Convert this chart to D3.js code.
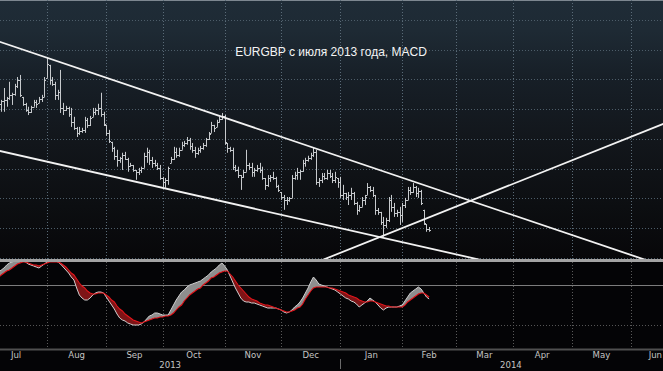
<!DOCTYPE html>
<html><head><meta charset="utf-8">
<script src="https://cdn.jsdelivr.net/npm/d3@7"></script>
<style>body{margin:0;background:#000;overflow:hidden}svg{display:block}</style>
</head><body>
<script>
// ---- DATA: EURGBP daily OHLC (weekdays from 2013-07-08) ----
const open = [0.8597,0.8618,0.8628,0.8631,0.8638,0.8648,0.8651,0.8678,0.8698,0.8641,
0.8618,0.8597,0.8591,0.8608,0.8624,0.8621,0.8634,0.8641,0.8705,0.8749,
0.8698,0.8685,0.8648,0.8658,0.8604,0.8597,0.8604,0.8584,0.8557,0.8537,
0.8520,0.8527,0.8530,0.8564,0.8547,0.8574,0.8591,0.8597,0.8604,0.8584,
0.8547,0.8520,0.8490,0.8470,0.8443,0.8429,0.8436,0.8446,0.8433,0.8409,
0.8412,0.8395,0.8389,0.8395,0.8402,0.8443,0.8456,0.8429,0.8419,0.8412,
0.8402,0.8368,0.8355,0.8362,0.8419,0.8433,0.8456,0.8446,0.8463,0.8480,
0.8486,0.8496,0.8476,0.8463,0.8453,0.8463,0.8470,0.8480,0.8500,0.8520,
0.8547,0.8540,0.8557,0.8567,0.8577,0.8486,0.8470,0.8463,0.8406,0.8395,
0.8378,0.8372,0.8389,0.8412,0.8406,0.8389,0.8395,0.8402,0.8395,0.8368,
0.8345,0.8368,0.8372,0.8368,0.8341,0.8321,0.8304,0.8294,0.8294,0.8301,
0.8368,0.8378,0.8389,0.8392,0.8419,0.8429,0.8436,0.8446,0.8456,0.8355,
0.8362,0.8375,0.8368,0.8385,0.8375,0.8362,0.8368,0.8355,0.8311,0.8318,
0.8304,0.8311,0.8318,0.8284,0.8261,0.8271,0.8294,0.8311,0.8338,0.8328,
0.8311,0.8261,0.8254,0.8220,0.8210,0.8227,0.8294,0.8271,0.8250,0.8254,
0.8244,0.8277,0.8294,0.8328,0.8321,0.8338,0.8318,0.8324,0.8261,0.8213,
0.8197];
const high = [0.8631,0.8631,0.8671,0.8641,0.8692,0.8655,0.8685,0.8708,0.8715,0.8641,
0.8621,0.8608,0.8611,0.8631,0.8631,0.8641,0.8648,0.8708,0.8772,0.8749,
0.8708,0.8692,0.8665,0.8732,0.8621,0.8611,0.8608,0.8604,0.8574,0.8540,
0.8540,0.8537,0.8574,0.8570,0.8577,0.8604,0.8604,0.8618,0.8655,0.8591,
0.8547,0.8530,0.8490,0.8473,0.8463,0.8439,0.8453,0.8456,0.8436,0.8419,
0.8412,0.8395,0.8402,0.8406,0.8453,0.8470,0.8463,0.8439,0.8429,0.8419,
0.8412,0.8372,0.8368,0.8406,0.8439,0.8473,0.8470,0.8470,0.8490,0.8493,
0.8506,0.8503,0.8486,0.8473,0.8470,0.8476,0.8486,0.8503,0.8523,0.8557,
0.8547,0.8564,0.8574,0.8587,0.8580,0.8486,0.8473,0.8470,0.8412,0.8406,
0.8378,0.8395,0.8463,0.8419,0.8419,0.8402,0.8412,0.8419,0.8406,0.8368,
0.8378,0.8378,0.8389,0.8372,0.8345,0.8321,0.8311,0.8304,0.8304,0.8378,
0.8389,0.8402,0.8395,0.8429,0.8436,0.8443,0.8453,0.8470,0.8463,0.8368,
0.8385,0.8385,0.8395,0.8395,0.8385,0.8389,0.8368,0.8372,0.8345,0.8318,
0.8321,0.8335,0.8321,0.8288,0.8277,0.8304,0.8311,0.8351,0.8341,0.8338,
0.8311,0.8267,0.8254,0.8237,0.8234,0.8304,0.8311,0.8284,0.8261,0.8271,
0.8284,0.8301,0.8338,0.8338,0.8351,0.8341,0.8335,0.8328,0.8261,0.8213,
0.8203];
const low = [0.8591,0.8591,0.8591,0.8608,0.8631,0.8614,0.8645,0.8671,0.8641,0.8611,
0.8591,0.8580,0.8587,0.8608,0.8604,0.8621,0.8624,0.8641,0.8705,0.8682,
0.8678,0.8631,0.8631,0.8587,0.8580,0.8594,0.8574,0.8540,0.8530,0.8506,
0.8513,0.8520,0.8520,0.8537,0.8543,0.8574,0.8580,0.8580,0.8574,0.8543,
0.8510,0.8486,0.8456,0.8429,0.8406,0.8419,0.8395,0.8429,0.8389,0.8406,
0.8389,0.8362,0.8378,0.8385,0.8402,0.8419,0.8412,0.8402,0.8406,0.8395,
0.8362,0.8338,0.8335,0.8345,0.8419,0.8429,0.8436,0.8439,0.8463,0.8473,
0.8480,0.8463,0.8453,0.8436,0.8446,0.8453,0.8463,0.8473,0.8496,0.8520,
0.8523,0.8540,0.8554,0.8564,0.8480,0.8453,0.8456,0.8395,0.8389,0.8368,
0.8328,0.8368,0.8389,0.8395,0.8372,0.8372,0.8389,0.8385,0.8362,0.8328,
0.8338,0.8355,0.8362,0.8335,0.8321,0.8294,0.8261,0.8277,0.8288,0.8301,
0.8362,0.8362,0.8362,0.8389,0.8406,0.8423,0.8429,0.8439,0.8345,0.8338,
0.8351,0.8362,0.8362,0.8368,0.8351,0.8351,0.8335,0.8301,0.8294,0.8294,
0.8277,0.8294,0.8277,0.8244,0.8254,0.8271,0.8277,0.8311,0.8321,0.8304,
0.8244,0.8244,0.8210,0.8170,0.8200,0.8220,0.8254,0.8237,0.8237,0.8210,
0.8220,0.8267,0.8294,0.8311,0.8318,0.8304,0.8301,0.8277,0.8210,0.8187,
0.8187];
const close = [0.8618,0.8628,0.8631,0.8638,0.8648,0.8651,0.8678,0.8698,0.8648,0.8618,
0.8597,0.8591,0.8608,0.8624,0.8618,0.8634,0.8641,0.8698,0.8752,0.8698,
0.8685,0.8648,0.8658,0.8604,0.8597,0.8604,0.8584,0.8557,0.8537,0.8520,
0.8527,0.8530,0.8564,0.8547,0.8570,0.8591,0.8597,0.8604,0.8584,0.8550,
0.8520,0.8493,0.8470,0.8443,0.8429,0.8436,0.8446,0.8433,0.8409,0.8412,
0.8395,0.8389,0.8395,0.8402,0.8443,0.8456,0.8429,0.8419,0.8412,0.8402,
0.8368,0.8355,0.8362,0.8402,0.8433,0.8456,0.8446,0.8463,0.8480,0.8486,
0.8496,0.8476,0.8463,0.8453,0.8463,0.8470,0.8480,0.8500,0.8517,0.8547,
0.8537,0.8557,0.8567,0.8577,0.8490,0.8470,0.8463,0.8406,0.8395,0.8378,
0.8372,0.8389,0.8412,0.8406,0.8389,0.8395,0.8402,0.8395,0.8368,0.8345,
0.8368,0.8372,0.8368,0.8341,0.8328,0.8304,0.8294,0.8294,0.8301,0.8368,
0.8378,0.8389,0.8392,0.8419,0.8429,0.8436,0.8446,0.8456,0.8355,0.8362,
0.8375,0.8368,0.8385,0.8375,0.8362,0.8372,0.8355,0.8311,0.8318,0.8304,
0.8311,0.8318,0.8284,0.8261,0.8271,0.8294,0.8304,0.8338,0.8328,0.8311,
0.8261,0.8254,0.8220,0.8210,0.8227,0.8294,0.8271,0.8250,0.8254,0.8244,
0.8277,0.8294,0.8328,0.8321,0.8338,0.8318,0.8324,0.8284,0.8217,0.8197,
0.8193];
// MACD and signal line, in pips
const macdLine = [13,15,17,20,22,23,24,25,25,24, 23,21,20,19,18,17,19,21,23,25,
24,24,23,21,18,15,12,8,5,-3, -10,-13,-15,-15,-13,-10,-8,-7,-7,-8,
-12,-16,-20,-24,-29,-33,-35,-36,-38,-39, -40,-40,-40,-39,-37,-34,-31,-30,-28,-28,
-29,-30,-30,-30,-25,-20,-15,-11,-7,-5, -2,0,1,2,3,4,6,8,10,13,
15,17,20,22,19,15,9,3,-3,-8, -13,-16,-17,-17,-18,-18,-19,-20,-21,-22,
-23,-23,-23,-23,-24,-25,-27,-28,-27,-25, -22,-20,-17,-13,-8,-3,3,8,5,1,
0,-1,-2,-3,-4,-5,-7,-9,-11,-13, -14,-16,-17,-19,-22,-20,-18,-16,-13,-15,
-17,-20,-23,-25,-23,-22,-22,-22,-22,-21, -20,-16,-12,-8,-6,-4,-2,-4,-8,-12,
-14];
const signalLine = [8,10,12,14,15,17,19,21,22,23, 23,22,21,20,20,19,20,21,22,23,
23,23,23,22,20,18,15,12,10,6, 2,-1,-3,-6,-8,-9,-9,-8,-8,-8,
-10,-12,-15,-17,-21,-24,-26,-29,-31,-33, -35,-36,-37,-38,-37,-36,-35,-34,-33,-33,
-32,-32,-31,-31,-30,-28,-25,-22,-20,-16, -13,-10,-8,-6,-4,-3,0,2,4,7,
8,10,12,13,14,14,11,8,4,0, -3,-6,-9,-12,-14,-15,-16,-18,-19,-20,
-20,-21,-22,-23,-24,-25,-26,-27,-27,-26, -25,-23,-22,-19,-14,-10,-6,-3,-2,-2,
-2,-2,-2,-3,-3,-4,-5,-6,-7,-8, -10,-11,-12,-13,-15,-16,-17,-17,-16,-16,
-17,-18,-19,-20,-21,-21,-22,-22,-22,-22, -22,-20,-17,-15,-13,-11,-9,-8,-8,-10,
-12];
// trend lines: two anchor points each (date, price)
const trendLines = [
  {d1:"2013-08-01", p1:0.8773, d2:"2014-04-14", p2:0.8216},
  {d1:"2013-08-01", p1:0.8423, d2:"2014-02-03", p2:0.8152},
  {d1:"2014-01-23", p1:0.8174, d2:"2014-06-02", p2:0.8507}
];
const priceTicks = [0.81,0.82,0.83,0.84,0.85,0.86,0.87,0.88,0.89];
const macdTicks = [0, -40];
const title = "EURGBP с июля 2013 года, MACD";

// ---- LAYOUT ----
const W=663, H=371;
const mainTop=0, mainBot=259, sepH=3, mTop=262, mBot=349;
const svg=d3.select("body").append("svg").attr("width",W).attr("height",H);
const defs=svg.append("defs");
const g=defs.append("linearGradient").attr("id","bg").attr("x1",0).attr("y1",0).attr("x2",0).attr("y2",1);
[[0,"#1f2c37"],[0.12,"#1e2a34"],[0.3,"#171f27"],[0.55,"#12161b"],[0.8,"#0c0e11"],[1,"#070709"]]
  .forEach(([o,c])=>g.append("stop").attr("offset",o).attr("stop-color",c));
defs.append("clipPath").attr("id","clipMain").append("rect").attr("x",0).attr("y",mainTop).attr("width",W).attr("height",mainBot-mainTop);
defs.append("clipPath").attr("id","clipMacd").append("rect").attr("x",0).attr("y",mTop).attr("width",W).attr("height",mBot-mTop);

svg.append("rect").attr("width",W).attr("height",H).attr("fill","#040406");
svg.append("rect").attr("x",0).attr("y",mainTop).attr("width",W).attr("height",mainBot-mainTop).attr("fill","url(#bg)");
svg.append("line").attr("x1",0).attr("x2",W).attr("y1",0.5).attr("y2",0.5).attr("stroke","#7d8790").attr("stroke-width",1);

// ---- SCALES ----
const ref=new Date(2013,6,8);
const isWd=d=>d.getDay()!==0&&d.getDay()!==6;
function wdIndex(d){ return d>=ref ? d3.timeDays(ref,d).filter(isWd).length : -d3.timeDays(d,ref).filter(isWd).length; }
const parse=d3.timeParse("%Y-%m-%d");
const x=d3.scaleLinear().domain([0,235]).range([-1.4,631]);
const y=d3.scaleLinear().domain([0.81,0.89]).range([257.6,20]);
const yM=d3.scaleLinear().domain([-40,0]).range([325,285]);
const idx=d3.range(close.length);

// ---- GRID ----
const months=d3.timeMonths(new Date(2013,6,1), new Date(2014,7,1));
const firstWd=m=>{let d=new Date(m); while(!isWd(d)) d=d3.timeDay.offset(d,1); return d;};
const mX=months.map(m=>x(wdIndex(firstWd(m))));
const grid=svg.append("g");
priceTicks.forEach(p=>grid.append("line").attr("x1",0).attr("x2",W).attr("y1",Math.round(y(p))+0.5).attr("y2",Math.round(y(p))+0.5)
  .attr("stroke","#4d5d69").attr("stroke-dasharray","1,2"));
mX.forEach(v=>{
  const xv=Math.round(v)+0.5;
  grid.append("line").attr("x1",xv).attr("x2",xv).attr("y1",0).attr("y2",mainBot).attr("stroke","#5a6b78").attr("stroke-dasharray","1,2");
  grid.append("line").attr("x1",xv).attr("x2",xv).attr("y1",mTop).attr("y2",mBot+3).attr("stroke","#5a5a5a").attr("stroke-dasharray","1,2");
});
// MACD panel lines
grid.append("line").attr("x1",0).attr("x2",W).attr("y1",Math.round(yM(0))+0.5).attr("y2",Math.round(yM(0))+0.5).attr("stroke","#7c7c7c");
grid.append("line").attr("x1",0).attr("x2",W).attr("y1",Math.round(yM(-40))+0.5).attr("y2",Math.round(yM(-40))+0.5).attr("stroke","#555").attr("stroke-dasharray","1,2");

// ---- PRICE BARS ----
const bars=svg.append("g").attr("clip-path","url(#clipMain)");
bars.selectAll("path").data(idx).join("path")
  .attr("d",i=>{const xv=Math.round(x(i))+0.5;
    return `M${xv},${y(high[i])}V${y(low[i])}M${xv-1.5},${Math.round(y(open[i]))+0.5}H${xv}M${xv},${Math.round(y(close[i]))+0.5}H${xv+1.5}`;})
  .attr("stroke","#c6c9cc").attr("stroke-width",1).attr("fill","none");

// ---- TREND LINES ----
const tl=svg.append("g").attr("clip-path","url(#clipMain)");
trendLines.forEach(t=>{
  const x1=x(wdIndex(parse(t.d1))), y1=y(t.p1), x2=x(wdIndex(parse(t.d2))), y2=y(t.p2);
  const s=(y2-y1)/(x2-x1);
  const xa=-20, xb=W+20;
  tl.append("line").attr("x1",xa).attr("y1",y1+s*(xa-x1)).attr("x2",xb).attr("y2",y1+s*(xb-x1))
    .attr("stroke","#f2f2f2").attr("stroke-width",1.8);
});

// ---- SEPARATOR ----
svg.append("rect").attr("x",0).attr("y",mainBot).attr("width",W).attr("height",sepH).attr("fill","#a3a3a3");

// ---- MACD ----
const mg=svg.append("g").attr("clip-path","url(#clipMacd)");
defs.append("clipPath").attr("id","aboveSig").append("path")
  .attr("d",d3.area().x(i=>x(i)).y0(mTop-50).y1(i=>yM(signalLine[i]))(idx));
defs.append("clipPath").attr("id","belowSig").append("path")
  .attr("d",d3.area().x(i=>x(i)).y0(i=>yM(signalLine[i])).y1(mBot+50)(idx));
const between=d3.area().x(i=>x(i)).y0(i=>yM(signalLine[i])).y1(i=>yM(macdLine[i]));
mg.append("g").attr("clip-path","url(#aboveSig)").append("path").attr("d",between(idx)).attr("fill","#8e8e8e");
mg.append("g").attr("clip-path","url(#belowSig)").append("path").attr("d",between(idx)).attr("fill","#7e1416");
mg.append("path").attr("d",d3.line().x(i=>x(i)).y(i=>yM(macdLine[i]))(idx)).attr("fill","none").attr("stroke","#cfcfcf").attr("stroke-width",1);
mg.append("path").attr("d",d3.line().x(i=>x(i)).y(i=>yM(signalLine[i]))(idx)).attr("fill","none").attr("stroke","#e3141a").attr("stroke-width",1.1);

// ---- X AXIS ----
svg.append("line").attr("x1",0).attr("x2",W).attr("y1",mBot+0.5).attr("y2",mBot+0.5).attr("stroke","#4f4f4f").attr("stroke-width",2);
const fmt=d3.timeFormat("%b");
const lab=svg.append("g").attr("font-family","'Liberation Sans Narrow','DejaVu Sans Condensed','Arial Narrow',sans-serif")
  .attr("font-size",9.5).attr("fill","#c4c4c4").attr("text-anchor","middle");
months.slice(0,-1).forEach((m,k)=>{
  const t=lab.append("text").attr("x",(mX[k]+mX[k+1])/2).attr("y",358).text(fmt(m));
  const bb=t.node().getBBox();
  if(bb.x+bb.width>W-1) t.attr("text-anchor","end").attr("x",W-1);
  if(bb.x<1) t.attr("text-anchor","start").attr("x",1);
});
const yStart2014=x(wdIndex(firstWd(new Date(2014,0,1))));
const yEnd2014=x(wdIndex(firstWd(new Date(2014,6,1))));
lab.append("text").attr("x",(0+yStart2014)/2).attr("y",368).text("2013");
lab.append("text").attr("x",(yStart2014+yEnd2014)/2-3).attr("y",368).text("2014");
svg.append("line").attr("x1",Math.round(yStart2014)+0.5).attr("x2",Math.round(yStart2014)+0.5).attr("y1",359).attr("y2",369).attr("stroke","#6a6a6a");

// ---- TITLE ----
svg.append("text").attr("x",331).attr("y",56).attr("text-anchor","middle")
  .attr("font-family","'Liberation Sans',Arial,sans-serif").attr("font-size",12).attr("fill","#f4f4f4").text(title);
</script>
</body></html>
